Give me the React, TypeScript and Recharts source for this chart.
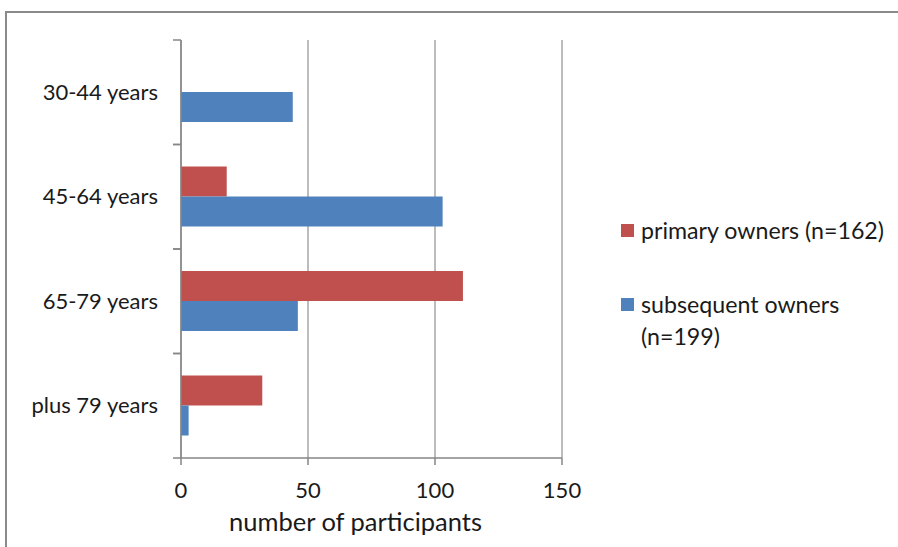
import React from 'react';
import { BarChart, Bar, XAxis, YAxis, CartesianGrid } from 'recharts';

const categories = ['30-44 years', '45-64 years', '65-79 years', 'plus 79 years'];
const primaryOwners = [0, 18, 111, 32];
const subsequentOwners = [44, 103, 46, 3];
const xTicks = [0, 50, 100, 150];

const seriesNames = ['primary owners (n=162)', 'subsequent owners (n=199)'];
const seriesColors = ['#C0504D', '#4F81BD'];

const data = categories.map((cat, i) => ({
  category: cat,
  primary: primaryOwners[i],
  subsequent: subsequentOwners[i],
}));

const FONT = 'Lato, "Open Sans", sans-serif';
const AXIS = '#868686';
const TEXT = '#1a1a1a';

// plot spans y 40..458 -> 4 bands
const BAND_HALF = (458 - 40) / categories.length / 2;

// label plus Excel-style tick marks at the band edges
const renderYTick = (props: any) => {
  const { x, y, payload } = props;
  return (
    <g>
      <line x1={x} x2={x + 8} y1={y - BAND_HALF} y2={y - BAND_HALF} stroke={AXIS} strokeWidth={1.5} />
      <line x1={x} x2={x + 8} y1={y + BAND_HALF} y2={y + BAND_HALF} stroke={AXIS} strokeWidth={1.5} />
      <text x={x - 15} y={y} dy="0.35em" textAnchor="end" fill={TEXT} fontSize={22} fontFamily={FONT}>
        {payload.value}
      </text>
    </g>
  );
};

const renderXLabel = (props: any) => {
  const { viewBox } = props;
  const cx = viewBox.x + viewBox.width / 2 - 16;
  return (
    <text x={cx} y={531} textAnchor="middle" fill={TEXT} fontSize={25.5} fontFamily={FONT}>
      number of participants
    </text>
  );
};

const LegendBox = () => (
  <div style={{ position: 'absolute', left: 621, top: 214, width: 277, fontFamily: FONT, fontSize: 23.2, color: TEXT }}>
    {seriesNames.map((name, i) => (
      <div key={name} style={{ display: 'flex', alignItems: 'flex-start', marginBottom: 42, lineHeight: '32px' }}>
        <span style={{ display: 'inline-block', width: 13, height: 13, background: seriesColors[i], marginTop: 10, marginRight: 7, flexShrink: 0 }} />
        <span style={{ width: 252, whiteSpace: 'normal' }}>{name}</span>
      </div>
    ))}
  </div>
);

export default function App() {
  return (
    <div style={{ position: 'absolute', left: 0, top: 0, width: 898, height: 547, overflow: 'hidden', background: '#fff' }}>
      <div style={{ position: 'absolute', left: 5, top: 11, width: 1000, height: 1000, border: '2px solid #8a8a8a' }} />
      <BarChart
        width={898}
        height={547}
        layout="vertical"
        data={data}
        margin={{ top: 40, right: 336, bottom: 0, left: 0 }}
        barSize={30}
        barGap={0}
      >
        <CartesianGrid horizontal={false} stroke="#a6a6a6" strokeWidth={1.5} />
        <XAxis
          type="number"
          domain={[0, 150]}
          ticks={xTicks}
          height={89}
          tickSize={7}
          tickMargin={17}
          axisLine={{ stroke: AXIS, strokeWidth: 1.5 }}
          tickLine={{ stroke: AXIS, strokeWidth: 1.5 }}
          tick={{ fill: TEXT, fontSize: 22, fontFamily: FONT }}
          label={{ position: 'insideBottom', content: renderXLabel }}
        />
        <YAxis
          type="category"
          dataKey="category"
          width={181}
          tickSize={8}
          tickMargin={0}
          tickLine={false}
          axisLine={{ stroke: AXIS, strokeWidth: 1.5 }}
          tick={renderYTick}
        />
        <Bar dataKey="primary" name={seriesNames[0]} fill={seriesColors[0]} isAnimationActive={false} />
        <Bar dataKey="subsequent" name={seriesNames[1]} fill={seriesColors[1]} isAnimationActive={false} />
      </BarChart>
      <LegendBox />
    </div>
  );
}
